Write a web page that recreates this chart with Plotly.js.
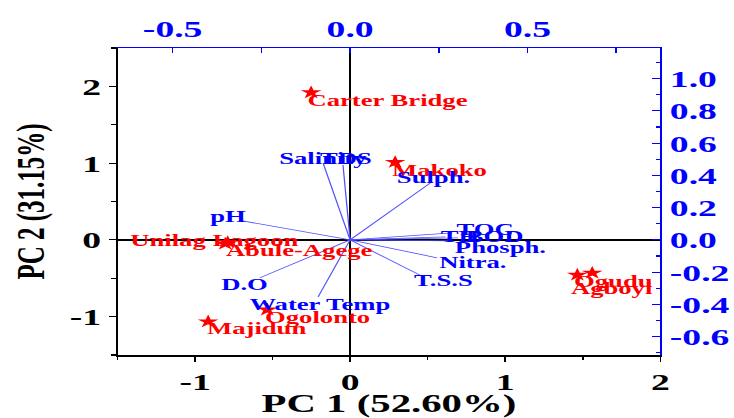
<!DOCTYPE html>
<html><head><meta charset="utf-8">
<script src="https://cdn.plot.ly/plotly-3.0.1.min.js"></script>
<style>
html,body{margin:0;padding:0;background:#fff;overflow:hidden}
#wrap{width:734px;height:418px;overflow:hidden}
#plot{width:468px;height:418px;transform-origin:0 0}
</style>
</head><body><div id="wrap"><div id="plot"></div></div>
<script>
// ---- data ----
const siteNames = ['Carter Bridge','Makoko','Unilag Lagoon','Abule-Agege','Ogolonto','Majidun','Ogudu','Agboyi'];
const sitePC1   = [-0.252, 0.290, -0.790, -0.806, -0.535, -0.916, 1.465, 1.561];
const sitePC2   = [ 1.920, 1.013, -0.030, -0.052, -0.910, -1.065, -0.455, -0.430];

const varNames = ['pH','Salinity','TDS','Sulph.','TOC','TH','BOD','Phosph.','Nitra.','T.S.S','D.O','Water Temp'];
const varLoad1 = [-0.304, -0.076, -0.020, 0.226, 0.288, 0.268, 0.304, 0.288, 0.245, 0.206, -0.254, -0.090];
const varLoad2 = [ 0.118,  0.476,  0.464, 0.353, 0.043, 0.019, 0.012, -0.006, -0.111, -0.229, -0.235, -0.353];

const bottomTickVals = [-1, 0, 1, 2];
const bottomTickText = ['-1', '0', '1', '2'];
const leftTickVals   = [-1, 0, 1, 2];
const leftTickText   = ['-1', '0', '1', '2'];
const topTickVals    = [-0.5, 0, 0.5];
const topTickText    = ['-0.5', '0.0', '0.5'];
const rightTickVals  = [-0.6, -0.4, -0.2, 0, 0.2, 0.4, 0.6, 0.8, 1.0];
const rightTickText  = ['-0.6', '-0.4', '-0.2', '0.0', '0.2', '0.4', '0.6', '0.8', '1.0'];

const xTitle = 'PC 1 (52.60%)';
const yTitle = 'PC 2 (31.15%)';

// ---- styling / label placement (anchor, dx px, dy px) ----
const siteLabelPlace = [['left',-7,-8],['left',-6,-8],['center',-13.5,2],['left',-2,-7],
                        ['left',-6,-8],['left',-4,-7],['left',-6,-7],['left',-24,-16]];
const varLabelPlace = [['right',7,4],['center',0,5],['center',3,7],['center',4,5],
                       ['left',1,3],['left',-7,0],['left',5,1],['left',-1,-7],
                       ['left',-1,-5],['left',-12,-4],['right',11,-7],['center',2,-8]];

const INNER_W = 468, OUTER_W = 734, S = OUTER_W / INNER_W;
const F = 'Liberation Serif, Times New Roman, serif';
const BLUE = '#0000ff', RED = '#ff0000';

const vecX = [], vecY = [];
varNames.forEach((n, i) => { vecX.push(0, varLoad1[i], null); vecY.push(0, varLoad2[i], null); });

const data = [
  {type:'scatter', mode:'lines', x:vecX, y:vecY, xaxis:'x2', yaxis:'y2',
   line:{color:'rgb(80,80,255)', width:0.8}, hoverinfo:'skip', connectgaps:false},
  {type:'scatter', mode:'markers', x:sitePC1, y:sitePC2, xaxis:'x', yaxis:'y',
   marker:{symbol:'star', size:10, color:RED, line:{width:0}}, hoverinfo:'skip'}
];

const annotations = [];
siteNames.forEach((n, i) => {
  const p = siteLabelPlace[i];
  annotations.push({xref:'x', yref:'y', x:sitePC1[i], y:sitePC2[i], text:n, showarrow:false,
    xanchor:p[0], yanchor:'middle', xshift:p[1]/S, yshift:p[2],
    font:{family:F, size:17, color:RED, weight:'bold'}});
});
varNames.forEach((n, i) => {
  const p = varLabelPlace[i];
  annotations.push({xref:'x2', yref:'y2', x:varLoad1[i], y:varLoad2[i], text:n, showarrow:false,
    xanchor:p[0], yanchor:'middle', xshift:p[1]/S, yshift:p[2],
    font:{family:F, size:17, color:BLUE, weight:'bold'}});
});

const tickFontK = {family:F, size:24, color:'#000', weight:'bold'};
const tickFontB = {family:F, size:24, color:BLUE, weight:'bold'};

const layout = {
  width:INNER_W, height:418, autosize:false,
  margin:{l:75, r:47, t:47.5, b:62.5, pad:0},
  paper_bgcolor:'#fff', plot_bgcolor:'#fff', showlegend:false,
  xaxis:{range:[-1.5, 2], tickmode:'array', tickvals:bottomTickVals, ticktext:bottomTickText,
    ticks:'outside', ticklen:5, tickwidth:1, tickcolor:'#000',
    minor:{dtick:0.5, tick0:0, ticks:'outside', ticklen:3, tickwidth:1, tickcolor:'#000'},
    showline:true, linecolor:'#000', linewidth:1.5, zeroline:true, zerolinecolor:'#000', zerolinewidth:1.3,
    showgrid:false, tickfont:tickFontK,
    title:{text:xTitle, font:{family:F, size:26, color:'#000', weight:'bold'}, standoff:0}},
  yaxis:{range:[-1.5, 2.5], tickmode:'array', tickvals:leftTickVals, ticktext:leftTickText,
    ticks:'outside', ticklen:4.5, tickwidth:1.2, tickcolor:'#000',
    minor:{dtick:0.5, tick0:0, ticks:'outside', ticklen:3, tickwidth:1.2, tickcolor:'#000'},
    showline:true, linecolor:'#000', linewidth:1.3, zeroline:true, zerolinecolor:'#000', zerolinewidth:1.3,
    showgrid:false, tickfont:tickFontK,
    title:{text:yTitle, font:{family:F, size:25, color:'#000', weight:'bold'}, standoff:8}},
  xaxis2:{overlaying:'x', side:'top', anchor:'y', range:[-0.655, 0.874], tickmode:'array',
    tickvals:topTickVals, ticktext:topTickText, ticks:'inside', ticklen:5, tickwidth:1, tickcolor:BLUE,
    minor:{tickvals:[-0.25, 0.25, 0.75], ticks:'inside', ticklen:5, tickwidth:1, tickcolor:BLUE},
    showline:true, linecolor:BLUE, linewidth:1.5, zeroline:false, showgrid:false, tickfont:tickFontB},
  yaxis2:{overlaying:'y', side:'right', anchor:'x', range:[-0.714, 1.19], tickmode:'array',
    tickvals:rightTickVals, ticktext:rightTickText, ticks:'inside', ticklen:5, tickwidth:1.2, tickcolor:BLUE,
    minor:{dtick:0.1, tick0:0, ticks:'inside', ticklen:2.5, tickwidth:1.2, tickcolor:BLUE},
    showline:true, linecolor:BLUE, linewidth:1.3, zeroline:false, showgrid:false, tickfont:tickFontB},
  annotations:annotations
};

Plotly.newPlot('plot', data, layout, {staticPlot:true, displayModeBar:false}).then(() => {
  document.getElementById('plot').style.transform = 'scaleX(' + S + ')';
});
</script></body></html>
